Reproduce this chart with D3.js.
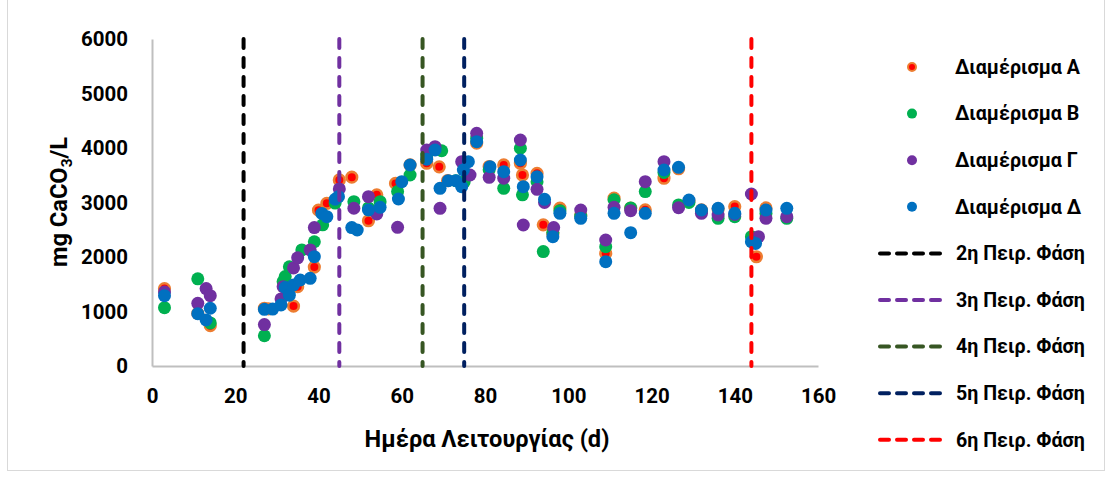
<!DOCTYPE html>
<html><head><meta charset="utf-8">
<script src="https://cdn.jsdelivr.net/npm/d3@7"></script>
<style>
body{margin:0;background:#fff}
svg{display:block}
text{font-family:Roboto,'Noto Sans',sans-serif;font-weight:bold;fill:#000}
</style>
</head><body>
<svg id="chart" width="1112" height="479"></svg>
<script>
// ---- data ----
const xTicks = [0, 20, 40, 60, 80, 100, 120, 140, 160];
const yTicks = [0, 1000, 2000, 3000, 4000, 5000, 6000];

const seriesNames = ["Διαμέρισμα Α", "Διαμέρισμα Β", "Διαμέρισμα Γ", "Διαμέρισμα Δ"];

const daysA = [3, 11, 14, 27, 28, 34, 35, 39, 40, 42, 45, 48, 52, 54, 58.5, 62, 66, 69, 71, 78, 81, 84.5, 88.5, 89, 92.5, 94, 96.3, 98, 103, 109, 111, 115, 118.5, 123, 126.5, 129, 132, 136, 140, 144.3, 145.2, 147.5];
const valsA = [1420, 965, 740, 1060, 1050, 1100, 1455, 1815, 2860, 2985, 3415, 3465, 2665, 3140, 3350, 3690, 3720, 3655, 3400, 4090, 3660, 3690, 3720, 3505, 3535, 2590, 2420, 2895, 2770, 2065, 3080, 2895, 2865, 3445, 3620, 3030, 2865, 2880, 2925, 2280, 2005, 2900];

const daysB = [3, 11, 14, 27, 31.5, 32, 33, 36, 39, 41, 44, 48.5, 52, 54.8, 59, 62, 66, 69.6, 73, 75, 78, 81, 84.5, 88.5, 89, 92.5, 94, 96.3, 98, 103, 109, 111, 115, 118.5, 123, 126.5, 129, 132, 136, 140, 144, 144.4, 147.5, 152.5];
const valsB = [1070, 1600, 790, 555, 1550, 1640, 1820, 2130, 2280, 2590, 2990, 3015, 2900, 3015, 3200, 3505, 3870, 3950, 3400, 3380, 4180, 3600, 3260, 3995, 3140, 3380, 2100, 2450, 2850, 2750, 2190, 3050, 2900, 3200, 3550, 2955, 3000, 2830, 2710, 2740, 2373, 2281, 2800, 2710];

const daysG = [3, 11, 13, 14, 27, 31, 31.5, 34, 35, 38, 39, 45, 48.5, 52, 54, 59, 66, 68, 69.2, 74.4, 76.4, 78, 81, 84.5, 88.5, 89.2, 92.5, 94.3, 96.5, 103, 109, 111, 115, 118.5, 123, 126.5, 132, 136, 140, 144, 145.7, 147.5, 152.5];
const valsG = [1360, 1150, 1420, 1290, 760, 1230, 1455, 1800, 1985, 2130, 2540, 3250, 2895, 3107, 2790, 2545, 3963, 4024, 2893, 3749, 3505, 4270, 3462, 3447, 4147, 2587, 3242, 3000, 2540, 2862, 2312, 2911, 2850, 3382, 3749, 2905, 2801, 2771, 2780, 3156, 2373, 2710, 2740];

const daysD = [3, 11, 13, 14, 27, 29, 31, 32, 33, 34, 35.6, 38, 39, 40.8, 42, 44, 44.8, 48, 49.3, 52, 54.8, 59.2, 60, 62, 66, 68, 69.2, 71.2, 73, 74.4, 74.8, 76, 78, 81.2, 84.5, 88.5, 89.2, 92.5, 94.3, 96.3, 98, 103, 109, 111, 115, 118.5, 123, 126.5, 129, 132, 136, 140, 144, 145, 147.5, 152.5];
const valsD = [1290, 960, 845, 1060, 1040, 1045, 1120, 1440, 1300, 1486, 1578, 1609, 2006, 2800, 2740, 3060, 3107, 2540, 2495, 2862, 2911, 3064, 3382, 3688, 3795, 3963, 3260, 3400, 3400, 3290, 3596, 3749, 4116, 3657, 3566, 3780, 3290, 3474, 3058, 2373, 2801, 2710, 1914, 2801, 2446, 2801, 3596, 3645, 3046, 2862, 2893, 2801, 2281, 2250, 2862, 2893];

const phaseDays = [22, 45, 65, 75, 144];
const phaseNames = ["2η Πειρ. Φάση", "3η Πειρ. Φάση", "4η Πειρ. Φάση", "5η Πειρ. Φάση", "6η Πειρ. Φάση"];

// ---- styles ----
const seriesFill = ["#FF0000", "#00B050", "#7030A0", "#0070C0"];
const seriesStroke = ["#ED7D31", "#00B050", "#7030A0", "#0070C0"];
const phaseColors = ["#000000", "#7030A0", "#375623", "#002060", "#FF0000"];

const svg = d3.select("#chart");
const L = 152, T = 39, R = 818, B = 366;

// scale a text element's font so its width matches a target
function fitWidth(sel, target) {
  const node = sel.node();
  const fs = parseFloat(sel.style("font-size"));
  const w = node.getComputedTextLength();
  const nfs = fs * target / w;
  sel.style("font-size", nfs + "px");
  return nfs;
}

// frame
svg.append("rect").attr("x", 7.5).attr("y", -1).attr("width", 1097).attr("height", 471.5)
  .attr("fill", "none").attr("stroke", "#d9d9d9").attr("stroke-width", 1);

const x = d3.scaleLinear().domain([0, 160]).range([L, R]);
const y = d3.scaleLinear().domain([0, 6000]).range([B, T]);

// axes
const xAxis = svg.append("g").attr("transform", `translate(0,${B})`)
  .call(d3.axisBottom(x).tickValues(xTicks).tickFormat(d3.format("d")).tickSize(0).tickPadding(22));
const yAxis = svg.append("g").attr("transform", `translate(${L},0)`)
  .call(d3.axisLeft(y).tickValues(yTicks).tickFormat(d3.format("d")).tickSize(0).tickPadding(24));
[xAxis, yAxis].forEach(g => {
  g.select(".domain").attr("stroke", "#bfbfbf").attr("stroke-width", 2);
  g.selectAll("text").style("font-family", "Roboto,'Noto Sans',sans-serif")
    .style("font-weight", "bold").style("font-size", "20px").attr("fill", "#000");
});
// match tick label size to reference width of "6000"
const tickFs = fitWidth(yAxis.selectAll("text").filter(d => d === 6000), 47);
xAxis.selectAll("text").style("font-size", tickFs + "px");
yAxis.selectAll("text").style("font-size", tickFs + "px");

// series
const series = [[daysA, valsA], [daysB, valsB], [daysG, valsG], [daysD, valsD]];
series.forEach((s, i) => {
  const pts = s[0].map((d, k) => [d, s[1][k]]);
  const g = svg.append("g");
  g.selectAll("circle").data(pts).join("circle")
    .attr("cx", d => x(d[0])).attr("cy", d => y(d[1]))
    .attr("r", i === 0 ? 5.3 : 6.5)
    .attr("fill", seriesFill[i])
    .attr("stroke", i === 0 ? seriesStroke[i] : "none")
    .attr("stroke-width", i === 0 ? 2.6 : 0);
});

// phase lines
svg.append("g").selectAll("line").data(phaseDays).join("line")
  .attr("x1", d => x(d)).attr("x2", d => x(d))
  .attr("y1", y(6000)).attr("y2", y(0))
  .attr("stroke", (d, i) => phaseColors[i]).attr("stroke-width", 4)
  .attr("stroke-dasharray", "9,10").attr("stroke-linecap", "round");

// axis titles
const xt = svg.append("text").attr("x", 487).attr("y", 447).attr("text-anchor", "middle")
  .style("font-size", "20px").text("Ημέρα Λειτουργίας (d)");
fitWidth(xt, 245);
const yt = svg.append("text").attr("transform", "translate(67,202) rotate(-90)")
  .attr("text-anchor", "middle").style("font-size", "20px");
yt.append("tspan").text("mg CaCO");
yt.append("tspan").attr("dy", 5).style("font-size", "0.65em").text("3");
yt.append("tspan").attr("dy", -5).text("/L");
fitWidth(yt, 130);

// legend
const lg = svg.append("g");
const legY0 = 67, legStep = 46.6;
const legTexts = [];
seriesNames.forEach((n, i) => {
  const yy = legY0 + i * legStep;
  lg.append("circle").attr("cx", 912).attr("cy", yy).attr("r", i === 0 ? 4 : 5)
    .attr("fill", seriesFill[i]).attr("stroke", i === 0 ? seriesStroke[i] : "none")
    .attr("stroke-width", i === 0 ? 2 : 0);
  legTexts.push(lg.append("text").attr("x", 955).attr("y", yy).attr("dy", "0.35em")
    .style("font-size", "16px").text(n));
});
phaseNames.forEach((n, i) => {
  const yy = legY0 + (i + 4) * legStep;
  lg.append("line").attr("x1", 880).attr("x2", 946).attr("y1", yy).attr("y2", yy)
    .attr("stroke", phaseColors[i]).attr("stroke-width", 4)
    .attr("stroke-dasharray", "9,8").attr("stroke-linecap", "round");
  legTexts.push(lg.append("text").attr("x", 956).attr("y", yy).attr("dy", "0.35em")
    .style("font-size", "16px").text(n));
});
const legFs = fitWidth(legTexts[0], 125);
legTexts.forEach(t => t.style("font-size", legFs + "px"));
</script>
</body></html>
